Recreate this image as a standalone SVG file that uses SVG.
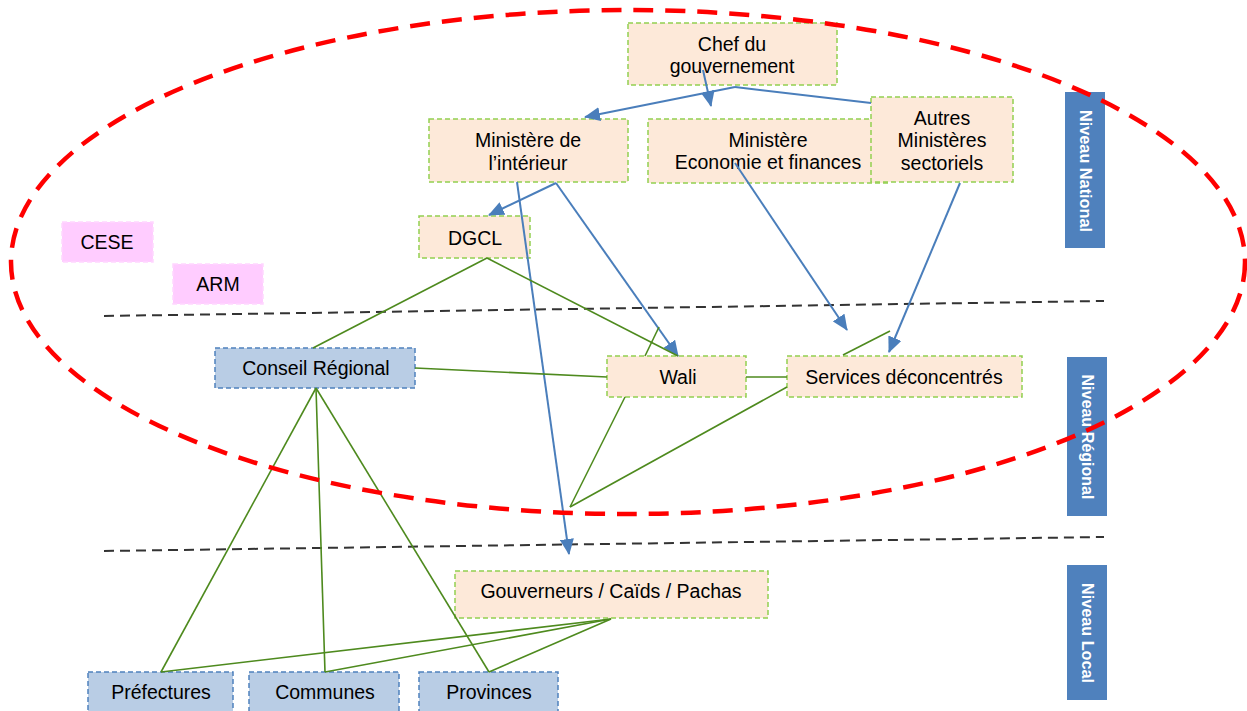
<svg xmlns="http://www.w3.org/2000/svg" width="1247" height="711" viewBox="0 0 1247 711">
<style>
.t{font-family:"Liberation Sans",Arial,sans-serif;font-size:19.5px;fill:#000;text-anchor:middle;dominant-baseline:central}
.lv{font-family:"Liberation Sans",Arial,sans-serif;font-size:17px;font-weight:bold;fill:#fff;text-anchor:middle;dominant-baseline:central}
.peach{fill:#fde9d9;stroke:#92d050;stroke-width:1.5;stroke-dasharray:5 3}
.blue{fill:#b9cde5;stroke:#4f81bd;stroke-width:1.5;stroke-dasharray:5 3}
.pink{fill:#ffccff;stroke:#ffd6ff;stroke-width:1.5;stroke-dasharray:5 3}
.lvl{fill:#4f81bd}
.arr{stroke:#4a7ebb;stroke-width:2;fill:none}
.arrm{stroke:#4a7ebb;stroke-width:2;fill:none;marker-end:url(#ah)}
.g{stroke:#4e8a1e;stroke-width:1.6;fill:none}
.sep{stroke:#333;stroke-width:2;stroke-dasharray:10 6;fill:none}
</style>
<defs>
<marker id="ah" markerUnits="userSpaceOnUse" markerWidth="16" markerHeight="14" refX="15" refY="7" orient="auto">
<path d="M0,0 L16,7 L0,14 Z" fill="#4a7ebb"/>
</marker>
</defs>
<rect width="1247" height="711" fill="#fff"/>

<g id="separators">
<line class="sep" x1="104" y1="316" x2="1104" y2="301"/>
<line class="sep" x1="104" y1="551" x2="1104" y2="537"/>
</g>

<g id="level-national"><rect class="lvl" x="1065" y="92" width="40" height="156"/><text class="lv" transform="translate(1085,171) rotate(90)" textLength="122" lengthAdjust="spacingAndGlyphs">Niveau National</text></g>
<g id="level-regional"><rect class="lvl" x="1067" y="357" width="40" height="159"/><text class="lv" transform="translate(1087,437) rotate(90)" textLength="125" lengthAdjust="spacingAndGlyphs">Niveau Régional</text></g>
<g id="level-local"><rect class="lvl" x="1067" y="565" width="40" height="135"/><text class="lv" transform="translate(1087,633) rotate(90)" textLength="100" lengthAdjust="spacingAndGlyphs">Niveau Local</text></g>

<g id="chef"><rect class="peach" x="628" y="23" width="209" height="62"/><text class="t" x="732" y="44">Chef du</text><text class="t" x="732" y="66">gouvernement</text></g>
<g id="min-interieur"><rect class="peach" x="429" y="119" width="199" height="63"/><text class="t" x="528" y="140">Ministère de</text><text class="t" x="528" y="163">l’intérieur</text></g>
<g id="min-economie"><rect class="peach" x="648" y="119" width="240" height="64"/><text class="t" x="768" y="140">Ministère</text><text class="t" x="768" y="162">Economie et finances</text></g>
<g id="autres"><rect class="peach" x="871" y="97" width="142" height="85"/><text class="t" x="942" y="118">Autres</text><text class="t" x="942" y="140">Ministères</text><text class="t" x="942" y="163">sectoriels</text></g>
<g id="dgcl"><rect class="peach" x="419" y="216" width="111" height="42"/><text class="t" x="475" y="238">DGCL</text></g>
<g id="cese"><rect class="pink" x="62" y="222" width="91" height="40"/><text class="t" x="107" y="242">CESE</text></g>
<g id="arm"><rect class="pink" x="173" y="264" width="90" height="40"/><text class="t" x="218" y="284">ARM</text></g>
<g id="conseil"><rect class="blue" x="215" y="348" width="200" height="40"/><text class="t" x="316" y="368">Conseil Régional</text></g>
<g id="wali"><rect class="peach" x="607" y="356" width="139" height="41"/><text class="t" x="678" y="377">Wali</text></g>
<g id="services"><rect class="peach" x="787" y="356" width="235" height="41"/><text class="t" x="904" y="377">Services déconcentrés</text></g>
<g id="gouverneurs"><rect class="peach" x="455" y="571" width="313" height="47"/><text class="t" x="611" y="591">Gouverneurs / Caïds / Pachas</text></g>
<g id="prefectures"><rect class="blue" x="88" y="672" width="145" height="42"/><text class="t" x="161" y="692">Préfectures</text></g>
<g id="communes"><rect class="blue" x="249" y="672" width="150" height="42"/><text class="t" x="325" y="692">Communes</text></g>
<g id="provinces"><rect class="blue" x="419" y="672" width="139" height="42"/><text class="t" x="489" y="692">Provinces</text></g>

<g id="connectors">
<line class="arrm" x1="735" y1="87" x2="585" y2="117"/>
<line class="arrm" x1="703" y1="70" x2="711" y2="106"/>
<line class="arr" x1="735" y1="87" x2="871" y2="103"/>
<line class="arrm" x1="556" y1="183" x2="489" y2="215"/>
<line class="arrm" x1="517" y1="182" x2="569" y2="554"/>
<line class="arrm" x1="556" y1="183" x2="678" y2="356"/>
<line class="arrm" x1="735" y1="163" x2="847" y2="330"/>
<line class="arrm" x1="960" y1="183" x2="889" y2="352"/>
<line class="g" x1="487" y1="258" x2="313" y2="348"/>
<line class="g" x1="487" y1="258" x2="678" y2="356"/>
<line class="g" x1="659" y1="327" x2="645" y2="356"/>
<line class="g" x1="415" y1="368" x2="607" y2="377"/>
<line class="g" x1="746" y1="377" x2="787" y2="377"/>
<line class="g" x1="843" y1="355" x2="890" y2="331"/>
<line class="g" x1="625" y1="397" x2="570" y2="507"/>
<line class="g" x1="787" y1="387" x2="570" y2="507"/>
<line class="g" x1="316" y1="388" x2="161" y2="672"/>
<line class="g" x1="316" y1="388" x2="325" y2="672"/>
<line class="g" x1="316" y1="388" x2="489" y2="672"/>
<line class="g" x1="611" y1="619" x2="161" y2="672"/>
<line class="g" x1="611" y1="619" x2="325" y2="672"/>
<line class="g" x1="611" y1="619" x2="489" y2="672"/>
</g>

<g id="ellipse">
<ellipse cx="628" cy="262" rx="617" ry="252" fill="none" stroke="#ff0000" stroke-width="4.5" stroke-dasharray="20 12"/>
</g>
</svg>
